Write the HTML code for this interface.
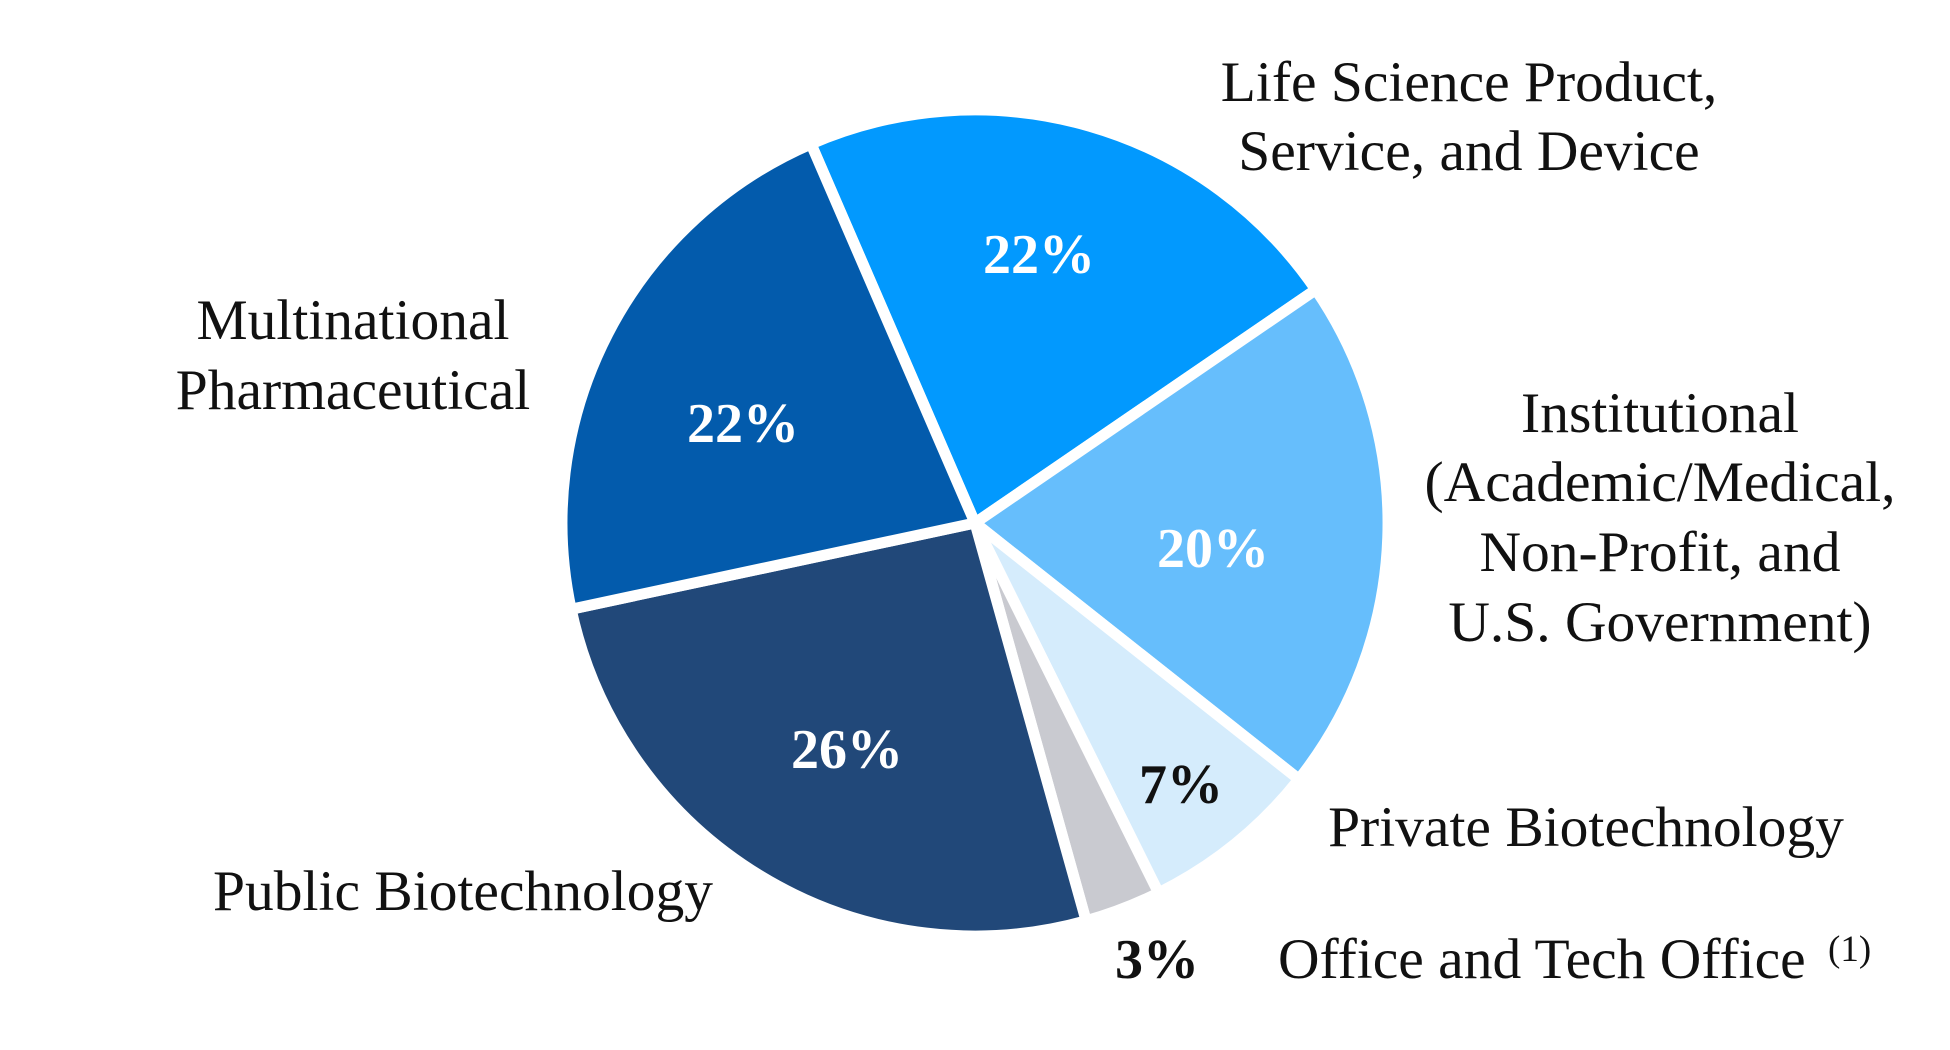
<!DOCTYPE html>
<html>
<head>
<meta charset="utf-8">
<style>
  html, body { margin: 0; padding: 0; background: #ffffff; }
  svg { display: block; }
  .lbl { font-family: "Liberation Serif", "Times New Roman", serif; font-size: 57.5px; fill: #111111; }
  .pct { font-family: "Liberation Serif", "Times New Roman", serif; font-size: 56px; font-weight: bold; }
</style>
</head>
<body>
<svg width="1950" height="1050" viewBox="0 0 1950 1050" xmlns="http://www.w3.org/2000/svg">
  <rect width="1950" height="1050" fill="#ffffff"/>
  <g stroke="#ffffff" stroke-width="11" stroke-linejoin="round">
    <!-- Life Science -->
    <path d="M975,523 L811.0,143.9 A413,413 0 0 1 1315.8,289.7 Z" fill="#0299FE"/>
    <!-- Institutional -->
    <path d="M975,523 L1315.8,289.7 A413,413 0 0 1 1298.9,779.3 Z" fill="#66BEFC"/>
    <!-- Private Biotech -->
    <path d="M975,523 L1298.9,779.3 A413,413 0 0 1 1158.6,892.9 Z" fill="#D5ECFC"/>
    <!-- Office -->
    <path d="M975,523 L1158.6,892.9 A413,413 0 0 1 1086.1,920.8 Z" fill="#C9CAD0"/>
    <!-- Public Biotech -->
    <path d="M975,523 L1086.1,920.8 A413,413 0 0 1 571.1,609.2 Z" fill="#214879"/>
    <!-- Multinational -->
    <path d="M975,523 L571.1,609.2 A413,413 0 0 1 811.0,143.9 Z" fill="#035BAC"/>
  </g>

  <!-- percentages -->
  <text class="pct" x="1039" y="273" text-anchor="middle" fill="#ffffff">22%</text>
  <text class="pct" x="743" y="442" text-anchor="middle" fill="#ffffff">22%</text>
  <text class="pct" x="1213" y="567" text-anchor="middle" fill="#ffffff">20%</text>
  <text class="pct" x="847" y="768" text-anchor="middle" fill="#ffffff">26%</text>
  <text class="pct" x="1181" y="803" text-anchor="middle" fill="#111111">7%</text>
  <text class="pct" x="1157" y="978" text-anchor="middle" fill="#111111">3%</text>

  <!-- labels -->
  <text class="lbl" x="1469" y="101" text-anchor="middle">Life Science Product,</text>
  <text class="lbl" x="1469" y="170" text-anchor="middle">Service, and Device</text>

  <text class="lbl" x="353" y="339" text-anchor="middle">Multinational</text>
  <text class="lbl" x="353" y="409" text-anchor="middle">Pharmaceutical</text>

  <text class="lbl" x="1660" y="432" text-anchor="middle">Institutional</text>
  <text class="lbl" x="1660" y="501" text-anchor="middle">(Academic/Medical,</text>
  <text class="lbl" x="1660" y="571" text-anchor="middle">Non-Profit, and</text>
  <text class="lbl" x="1660" y="641" text-anchor="middle">U.S. Government)</text>

  <text class="lbl" x="1586" y="846" text-anchor="middle">Private Biotechnology</text>

  <text class="lbl" x="463" y="910" text-anchor="middle">Public Biotechnology</text>

  <text class="lbl" x="1278" y="978">Office and Tech Office</text>
  <text class="lbl" x="1828" y="961" style="font-size:37px">(1)</text>
</svg>
</body>
</html>
